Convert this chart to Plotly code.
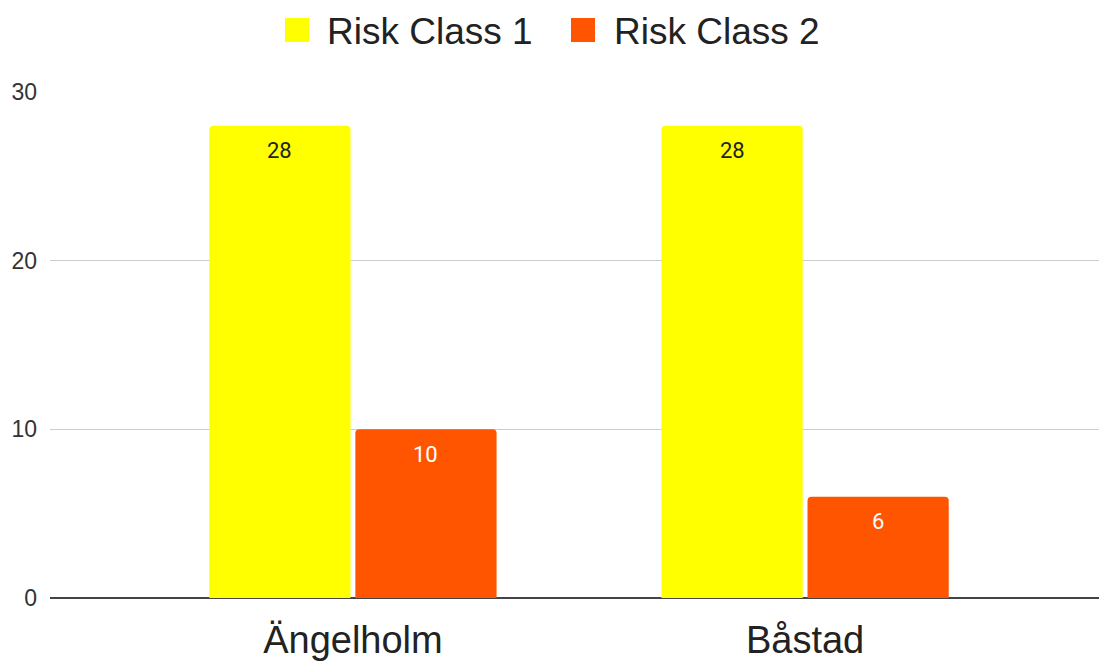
import plotly.graph_objects as go

categories = ["Ängelholm", "Båstad"]
series_names = ["Risk Class 1", "Risk Class 2"]
risk_class_1 = [28, 28]
risk_class_2 = [10, 6]
y_ticks = [0, 10, 20, 30]

colors = ["#FFFF00", "#FF5500"]
label_colors = ["#222222", "#FFFFFF"]

W, H = 1099, 664
ML, MR, MT, MB = 50, 0, 92, 66
BARGAP = 0.354
BARGROUPGAP = 0.033

fig = go.Figure()
for name, vals, col in zip(series_names, [risk_class_1, risk_class_2], colors):
    fig.add_trace(go.Bar(
        x=categories, y=vals, name=name, marker=dict(color=col, line=dict(width=0)),
        showlegend=False, hoverinfo="skip",
    ))

# data labels inside top of bars
slot = (1 - BARGAP) / 2
for si, (vals, lc) in enumerate(zip([risk_class_1, risk_class_2], label_colors)):
    for ci, v in enumerate(vals):
        off = (si - 0.5) * slot
        fig.add_annotation(
            x=ci + off, y=v, xref="x", yref="y", text=str(v), showarrow=False,
            yshift=-25, yanchor="middle", xanchor="center",
            font=dict(family="Roboto", size=22, color=lc),
        )

# manual legend (large square symbols)
plot_w = W - ML - MR
plot_h = H - MT - MB
def px_x(p):
    return (p - ML) / plot_w
def px_y(p):
    return (H - MB - p) / plot_h

legend_items = [(285, 325), (571, 612)]
for (sx, tx), name, col in zip(legend_items, series_names, colors):
    fig.add_shape(type="rect", xref="paper", yref="paper",
                  x0=px_x(sx), x1=px_x(sx + 24), y0=px_y(42), y1=px_y(18),
                  fillcolor=col, line=dict(width=0), layer="above")
    fig.add_annotation(x=px_x(tx), y=px_y(31), xref="paper", yref="paper",
                       text=name, showarrow=False, xanchor="left", yanchor="middle",
                       font=dict(family="Liberation Sans, Arial", size=37, color="#222222"))

fig.update_layout(
    width=W, height=H,
    margin=dict(l=ML, r=MR, t=MT, b=MB),
    paper_bgcolor="white", plot_bgcolor="white",
    barmode="group", bargap=BARGAP, bargroupgap=BARGROUPGAP,
    barcornerradius=4,
    font=dict(family="Liberation Sans, Arial", color="#222222"),
)
fig.update_xaxes(
    type="category", range=[-0.670, 1.650], showgrid=False, showline=False,
    tickfont=dict(size=38, color="#222222"), ticks="", ticklabelstandoff=16,
)
fig.update_yaxes(
    range=[0, 30], tickvals=y_ticks, showgrid=True, gridcolor="#CCCCCC", gridwidth=1,
    zeroline=True, zerolinecolor="#444444", zerolinewidth=2, showline=False,
    tickfont=dict(size=23, color="#333333"), ticks="", ticklabelstandoff=12,
)

fig.write_html("out.html")
